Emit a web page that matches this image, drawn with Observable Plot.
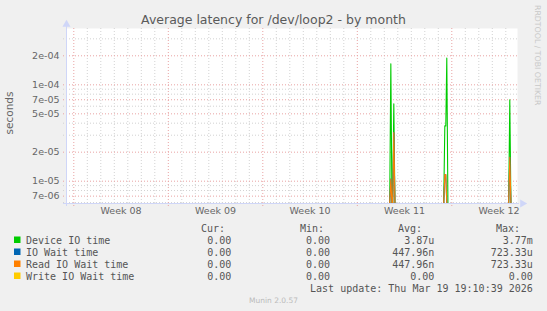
<!DOCTYPE html>
<html><head><meta charset="utf-8">
<script src="https://cdn.jsdelivr.net/npm/d3@7"></script>
<script src="https://cdn.jsdelivr.net/npm/@observablehq/plot@0.6"></script>
<style>
html,body{margin:0;padding:0;background:#F0F0F0;}
#wrap{position:relative;width:547px;height:311px;background:#F0F0F0;overflow:hidden;}
#wrap svg{position:absolute;left:0;top:0;}
</style></head><body><div id="wrap"></div>
<script>
// ---- text ----
const title = "Average latency for /dev/loop2 - by month";
const yLabel = "seconds";
const watermark = "RRDTOOL / TOBI OETIKER";
const lastUpdate = "Last update: Thu Mar 19 19:10:39 2026";
const footer = "Munin 2.0.57";

// ---- legend ----
const seriesNames = ["Device IO time", "IO Wait time", "Read IO Wait time", "Write IO Wait time"];
const seriesColors = ["#00CC00", "#0066B3", "#FF8000", "#FFCC00"];
const legendHeaders = ["Cur:", "Min:", "Avg:", "Max:"];
const curValues = ["0.00", "0.00", "0.00", "0.00"];
const minValues = ["0.00", "0.00", "0.00", "0.00"];
const avgValues = ["3.87u", "447.96n", "447.96n", "0.00"];
const maxValues = ["3.77m", "723.33u", "723.33u", "0.00"];

// ---- axes ----
const xDomain = [new Date("2026-02-15T11:00:00Z"), new Date("2026-03-20T20:48:00Z")];
const weekStarts = ["2026-02-16", "2026-02-23", "2026-03-02", "2026-03-09", "2026-03-16"].map(d => new Date(d + "T00:00:00Z"));
const weekLabelDates = ["2026-02-19T12:00:00Z", "2026-02-26T12:00:00Z", "2026-03-05T12:00:00Z", "2026-03-12T12:00:00Z", "2026-03-19T12:00:00Z"].map(d => new Date(d));
const weekLabels = ["Week 08", "Week 09", "Week 10", "Week 11", "Week 12"];
const yDomain = [5.87e-6, 3.84e-4];
const yTickValues = [2e-4, 1e-4, 7e-5, 5e-5, 2e-5, 1e-5, 7e-6];
const yTickLabels = ["2e-04", "1e-04", "7e-05", "5e-05", "2e-05", "1e-05", "7e-06"];
const yMinorGrid = [3e-4, 9e-5, 8e-5, 6e-5, 4e-5, 3e-5, 9e-6, 8e-6, 6e-6];

// ---- series ----
const deviceTimes = ["2026-03-09T11:00Z","2026-03-11T09:36Z","2026-03-11T11:36Z","2026-03-11T13:36Z","2026-03-11T14:54Z","2026-03-11T16:54Z","2026-03-11T18:54Z","2026-03-15T09:36Z","2026-03-15T11:36Z","2026-03-15T13:20Z","2026-03-15T15:06Z","2026-03-15T17:06Z","2026-03-20T05:06Z","2026-03-20T07:06Z","2026-03-20T09:06Z"];
const deviceValues = [0, 0, 1.65e-4, 0, 0, 6.35e-5, 0, 0, 3.75e-5, 3.75e-5, 1.9e-4, 0, 0, 6.98e-5, 0];
const ioWaitTimes = ["2026-03-09T11:00Z","2026-03-11T09:36Z","2026-03-11T11:36Z","2026-03-11T13:36Z","2026-03-11T14:54Z","2026-03-11T16:54Z","2026-03-11T18:54Z","2026-03-15T09:36Z","2026-03-15T11:36Z","2026-03-15T13:20Z","2026-03-15T15:06Z","2026-03-20T05:06Z","2026-03-20T07:06Z","2026-03-20T09:06Z"];
const ioWaitValues = [0, 0, 1.05e-5, 0, 0, 3.2e-5, 0, 0, 1.17e-5, 1.17e-5, 0, 0, 1.77e-5, 0];
const readTimes = ioWaitTimes.slice();
const readValues = [0, 0, 1.05e-5, 0, 0, 3.2e-5, 0, 0, 1.17e-5, 1.17e-5, 0, 0, 1.77e-5, 0];
const writeTimes = ["2026-03-09T11:00Z", "2026-03-20T09:06Z"];
const writeValues = [0, 0];

// ---- build ----
const seriesTimes = [deviceTimes, ioWaitTimes, readTimes, writeTimes];
const seriesValues = [deviceValues, ioWaitValues, readValues, writeValues];
const rows = [];
seriesNames.forEach((name, s) => {
  seriesTimes[s].forEach((t, i) => rows.push({series: name, t: new Date(t), v: seriesValues[s][i]}));
});
const floorY = v => (v > 0 ? v : yDomain[0]);

const gridGray = "#d2d2d2";
const gridRed = "#e9a3a3";
const axisColor = "#CFD6F8";
const fontColor = "#666666";
const weekMs = new Set(weekStarts.map(d => +d));
const days = d3.utcDay.range(d3.utcDay.ceil(xDomain[0]), xDomain[1]).filter(d => !weekMs.has(+d));

const chart = Plot.plot({
  width: 547,
  height: 311,
  marginTop: 28,
  marginRight: 30,
  marginBottom: 108,
  marginLeft: 66,
  style: {background: "transparent", fontFamily: "DejaVu Sans", fontSize: "9.5px", color: fontColor, overflow: "visible"},
  x: {type: "utc", domain: xDomain, axis: null},
  y: {type: "log", domain: yDomain, axis: null},
  color: {domain: seriesNames, range: seriesColors},
  marks: [
    Plot.frame({fill: "white", stroke: null}),
    Plot.ruleY(yMinorGrid, {stroke: gridGray, strokeDasharray: "1,2", insetLeft: -3}),
    Plot.ruleX(days, {stroke: gridGray, strokeDasharray: "1,2", insetBottom: -2}),
    Plot.ruleX(weekStarts, {stroke: gridRed, strokeDasharray: "1,2", insetBottom: -3}),
    Plot.ruleY(yTickValues, {stroke: gridRed, strokeDasharray: "1,2", insetLeft: -3}),
    Plot.line(rows, {x: "t", y: d => floorY(d.v), z: "series", stroke: "series", strokeWidth: 1.1, clip: true}),
    Plot.ruleY([yDomain[0]], {stroke: axisColor, insetLeft: -3, insetRight: -2}),
    Plot.ruleX([xDomain[0]], {stroke: axisColor, insetTop: -3, insetBottom: -3}),
    Plot.dot([0], {x: () => xDomain[1], y: () => yDomain[0], symbol: "triangle", rotate: 90, r: 3, fill: axisColor, stroke: null, dx: 5}),
    Plot.dot([0], {x: () => xDomain[0], y: () => yDomain[1], symbol: "triangle", r: 3, fill: axisColor, stroke: null, dy: -4}),
    Plot.text(weekLabels, {x: (d, i) => weekLabelDates[i], frameAnchor: "bottom", dy: 10, fill: fontColor, fontSize: 9.5}),
    Plot.text(yTickLabels, {y: (d, i) => yTickValues[i], frameAnchor: "left", dx: -7, textAnchor: "end", fill: fontColor, fontSize: 9.5})
  ]
});
const wrap = document.getElementById("wrap");
wrap.appendChild(chart);

// ---- overlay text (title, legend, footer) ----
const NS = "http://www.w3.org/2000/svg";
const ov = document.createElementNS(NS, "svg");
ov.setAttribute("width", 547); ov.setAttribute("height", 311);
wrap.appendChild(ov);
function txt(str, x, y, opts = {}) {
  const t = document.createElementNS(NS, "text");
  t.textContent = str;
  t.setAttribute("x", x); t.setAttribute("y", y);
  t.setAttribute("font-family", opts.family || "DejaVu Sans");
  t.setAttribute("font-size", opts.size || 10);
  t.setAttribute("fill", opts.fill || fontColor);
  t.setAttribute("text-anchor", opts.anchor || "start");
  t.setAttribute("xml:space", "preserve");
  if (opts.transform) t.setAttribute("transform", opts.transform);
  ov.appendChild(t);
  return t;
}
txt(title, 273.5, 24, {size: 12.5, anchor: "middle", fill: "#5a5a5a"});
txt(yLabel, 0, 0, {size: 10.5, anchor: "middle", transform: "translate(12.5,113) rotate(-90)"});
txt(watermark, 0, 0, {size: 7.8, fill: "#c8c8c8", transform: "translate(534.6,5) rotate(90)"});

const mono = {family: "DejaVu Sans Mono", size: 10, fill: "#555555"};
const headerRight = [225, 324, 422, 520];
const valueRight = [231.3, 330, 434.4, 532.8];
legendHeaders.forEach((h, i) => txt(h, headerRight[i], 231.5, {...mono, anchor: "end"}));
const cols = [curValues, minValues, avgValues, maxValues];
seriesNames.forEach((name, r) => {
  const cy = 240 + r * 12;
  const rect = document.createElementNS(NS, "rect");
  rect.setAttribute("x", 14); rect.setAttribute("y", cy - 3.5);
  rect.setAttribute("width", 6.5); rect.setAttribute("height", 6.5);
  rect.setAttribute("fill", seriesColors[r]);
  ov.appendChild(rect);
  txt(name, 26, cy + 3.6, mono);
  cols.forEach((c, k) => txt(c[r], valueRight[k], cy + 3.6, {...mono, anchor: "end"}));
});
txt(lastUpdate, 532.8, 291.5, {...mono, anchor: "end"});
txt(footer, 273.5, 302.7, {size: 7.5, anchor: "middle", fill: "#bbbbbb"});
</script>
</body></html>
